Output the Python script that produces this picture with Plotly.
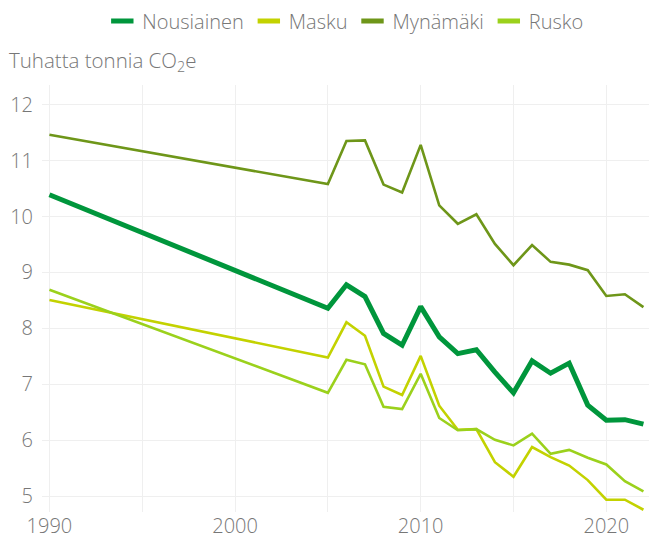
import plotly.graph_objects as go

years = [1990, 2005, 2006, 2007, 2008, 2009, 2010, 2011, 2012, 2013, 2014,
         2015, 2016, 2017, 2018, 2019, 2020, 2021, 2022]

nousiainen = [10.39, 8.36, 8.78, 8.57, 7.91, 7.70, 8.39, 7.85, 7.55, 7.62, 7.22,
              6.85, 7.42, 7.20, 7.38, 6.63, 6.36, 6.37, 6.29]
masku = [8.51, 7.48, 8.11, 7.87, 6.96, 6.81, 7.51, 6.62, 6.19, 6.20, 5.61,
         5.35, 5.88, 5.70, 5.55, 5.29, 4.94, 4.94, 4.76]
mynamaki = [11.46, 10.58, 11.35, 11.36, 10.57, 10.43, 11.28, 10.20, 9.87, 10.04, 9.51,
            9.13, 9.49, 9.19, 9.14, 9.04, 8.58, 8.61, 8.38]
rusko = [8.69, 6.85, 7.44, 7.36, 6.60, 6.56, 7.19, 6.40, 6.18, 6.20, 6.01,
         5.91, 6.12, 5.76, 5.83, 5.69, 5.57, 5.27, 5.09]

series_names = ["Nousiainen", "Masku", "Mynämäki", "Rusko"]
series_values = [nousiainen, masku, mynamaki, rusko]
colors = ["#00963c", "#c3d200", "#6e9619", "#9bd11c"]
widths = [5, 2.6, 2.6, 2.6]

x_ticks = [1990, 2000, 2010, 2020]
y_ticks = [5, 6, 7, 8, 9, 10, 11, 12]

FONT = "Open Sans"
GREY = "#777777"
FS = 20

fig = go.Figure()

# draw thinner lines first, the thick main series on top
order = [2, 1, 3, 0]
for i in order:
    fig.add_trace(go.Scatter(
        x=years, y=series_values[i], mode="lines", name=series_names[i],
        line=dict(color=colors[i], width=widths[i]),
        showlegend=False, hoverinfo="x+y+name",
    ))

# legend entries drawn as short thick bars
for name, color in zip(series_names, colors):
    fig.add_trace(go.Scatter(
        x=[None], y=[None], mode="markers", name=name,
        marker=dict(symbol="line-ew", size=16,
                    line=dict(color=color, width=5)),
        showlegend=True,
    ))

fig.update_layout(
    width=654, height=538,
    margin=dict(l=42, r=5, t=85, b=26),
    paper_bgcolor="white", plot_bgcolor="white",
    font=dict(family=FONT, color=GREY, size=FS, weight=300),
    legend=dict(
        orientation="h", xref="container", yref="container",
        x=0.528, xanchor="center", y=0.997, yanchor="top",
        font=dict(family=FONT, size=FS, color=GREY, weight=300),
        itemwidth=30, tracegroupgap=0, itemclick=False,
    ),
    xaxis=dict(
        range=[1989.6, 2022.3], tickvals=x_ticks, ticktext=[str(v) for v in x_ticks],
        showgrid=True, gridcolor="#efefef", gridwidth=1,
        zeroline=False, showline=False, automargin=False,
        ticks="", tickfont=dict(size=FS, color=GREY, weight=300),
        minor=dict(tickvals=[1995, 2005, 2015], showgrid=True,
                   gridcolor="#efefef", gridwidth=1),
    ),
    yaxis=dict(
        range=[4.72, 12.35], tickvals=y_ticks,
        showgrid=True, gridcolor="#efefef", gridwidth=1,
        zeroline=False, showline=False, automargin=False,
        ticks="", ticklabelstandoff=8,
        tickfont=dict(size=FS, color=GREY, weight=300),
    ),
    annotations=[dict(
        text="Tuhatta tonnia CO<sub>2</sub>e",
        xref="paper", yref="paper", x=-0.057, y=1.056,
        xanchor="left", yanchor="middle", showarrow=False,
        font=dict(family=FONT, size=20.5, color=GREY, weight=300),
    )],
)

fig.write_html("out.html")
